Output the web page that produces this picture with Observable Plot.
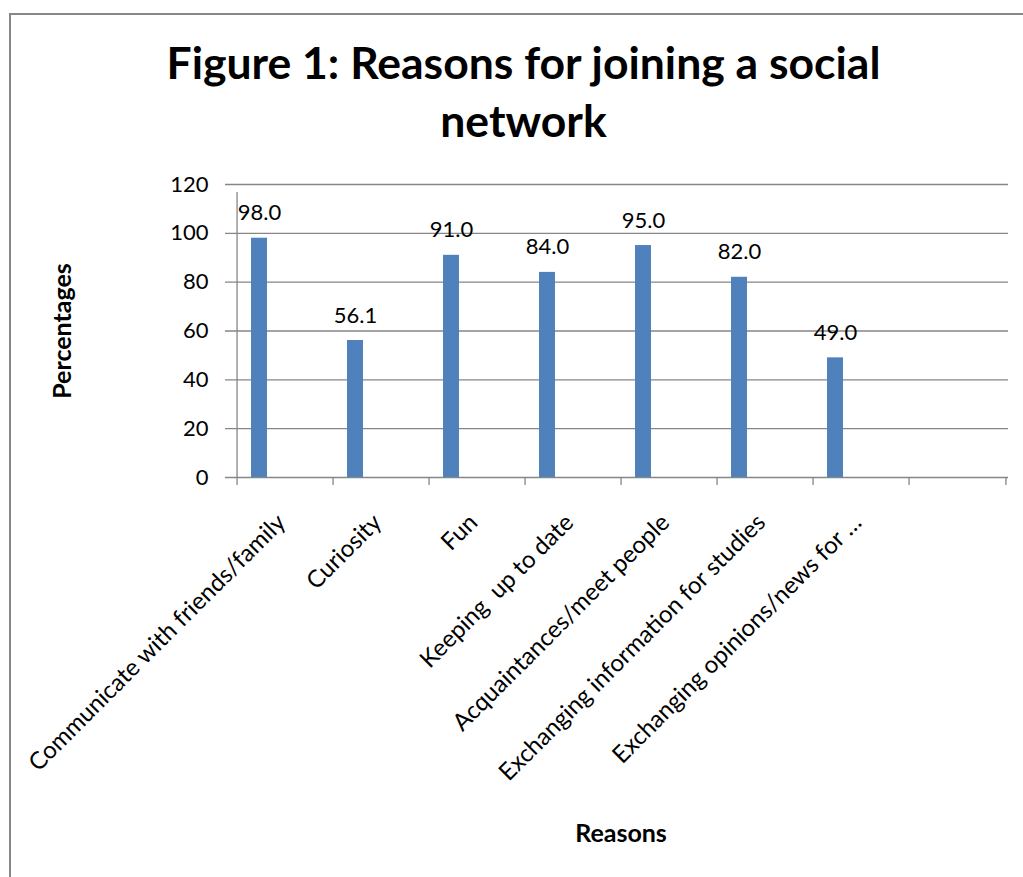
<!DOCTYPE html>
<html><head><meta charset="utf-8">
<script src="https://cdn.jsdelivr.net/npm/d3@7"></script>
<script src="https://cdn.jsdelivr.net/npm/@observablehq/plot@0.6"></script>
<style>
body{margin:0;background:#fff;}
#wrap{position:relative;width:1023px;height:877px;overflow:hidden;font-family:Lato,sans-serif;}
#frame{position:absolute;left:9px;top:13px;width:1100px;height:1000px;border-left:2px solid #878787;border-top:2px solid #878787;}
#title{position:absolute;left:12px;width:1023px;top:33px;text-align:center;font-weight:bold;font-size:44.5px;line-height:58px;color:#000;}
#chart{position:absolute;left:0;top:0;}
</style></head><body>
<div id="wrap"><div id="frame"></div><div id="chart"></div><div id="title">Figure 1: Reasons for joining a social<br>network</div></div>
<script>
const categories = ["Communicate with friends/family","Curiosity","Fun","Keeping  up to date","Acquaintances/meet people","Exchanging information for studies","Exchanging opinions/news for …",""];
const values = [98.0, 56.1, 91.0, 84.0, 95.0, 82.0, 49.0, null];
const valueLabels = ["98.0","56.1","91.0","84.0","95.0","82.0","49.0",""];
const yTicks = [0,20,40,60,80,100,120];
const yTitle = "Percentages";
const xTitle = "Reasons";

const data = categories.map((c,i)=>({category:c, value:values[i], label:valueLabels[i]}));
const W = 1023, H = 877, mL = 233, mR = 15, mT = 184, mB = 400;
const step = (W - mL - mR) / categories.length;
const gray = "#868686";

const chart = Plot.plot({
  width: W, height: H,
  marginLeft: mL, marginRight: mR, marginTop: mT, marginBottom: mB,
  style: {fontFamily: "Lato, sans-serif", fontSize: "22px", color: "#000", background: "transparent", overflow: "visible"},
  x: {type: "band", domain: categories, padding: 0, axis: null},
  y: {domain: [0, 120], axis: null},
  marks: [
    Plot.ruleY(yTicks, {stroke: gray, strokeWidth: 1.3, insetLeft: -8}),
    Plot.ruleX([categories[0]], {y1: 0, y2: 120, dx: -step/2, stroke: gray, strokeWidth: 1.3, insetBottom: -8}),
    Plot.ruleX(categories, {x: d=>d, y1: 0, y2: 0, insetBottom: -8, dx: -step/2, stroke: gray, strokeWidth: 1.3}),
    Plot.ruleX([categories[categories.length-1]], {y1: 0, y2: 0, insetBottom: -8, dx: step/2, stroke: gray, strokeWidth: 1.3}),
    Plot.barY(data.filter(d=>d.value!=null), {x: "category", y: "value", fill: "#4F81BD", insetLeft: 14, insetRight: 66}),
    Plot.text(data.filter(d=>d.value!=null), {x: "category", y: "value", text: "label", dx: 22.5 - step/2, dy: -18, lineAnchor: "bottom", fill: "#000", fontSize: 22}),
    Plot.axisY(yTicks, {tickSize: 0, tickPadding: 25, label: null, fontSize: 22}),
    Plot.text(categories.filter(c=>c), {x: d=>d, y: 0, text: d=>d, rotate: -45, textAnchor: "end", lineAnchor: "middle", dx: -4, dy: 41, fill: "#000", fontSize: 24}),
    Plot.text([yTitle], {frameAnchor: "left", text: d=>d, rotate: -90, textAnchor: "middle", dx: -171, fontWeight: "bold", fill: "#000", fontSize: 25}),
    Plot.text([xTitle], {frameAnchor: "bottom", text: d=>d, dy: 364, fontWeight: "bold", fill: "#000", fontSize: 25})
  ]
});
document.getElementById("chart").appendChild(chart);
</script>
</body></html>
